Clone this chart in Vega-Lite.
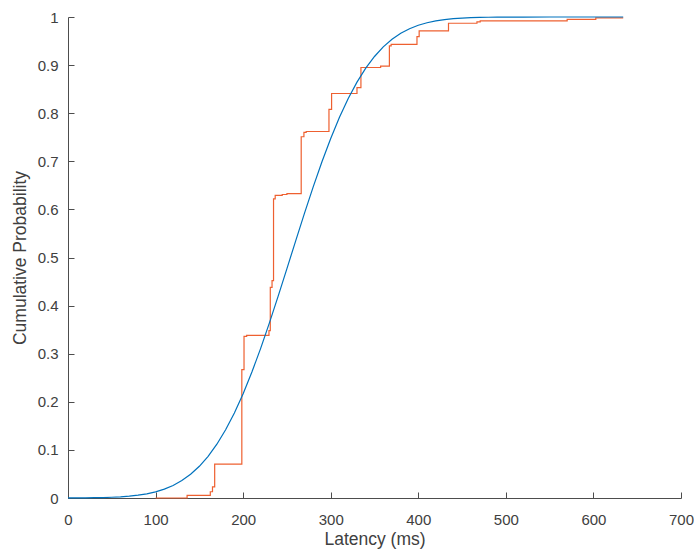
{
  "$schema": "https://vega.github.io/schema/vega-lite/v6.json",
  "width": 613,
  "height": 481,
  "autosize": {"type": "none"},
  "padding": {"left": 68, "top": 17, "right": 13, "bottom": 54},
  "background": "white",
  "config": {
    "view": {"stroke": null},
    "axis": {
      "grid": false,
      "domainColor": "#4d4d4d",
      "tickColor": "#4d4d4d",
      "labelColor": "#404040",
      "titleColor": "#404040",
      "labelFont": "Liberation Sans",
      "titleFont": "Liberation Sans",
      "labelFontSize": 15,
      "titleFontSize": 17.5,
      "titleFontWeight": "normal",
      "labelFlush": false,
      "tickSize": -6,
      "domainWidth": 1,
      "tickWidth": 1
    }
  },
  "datasets": {
    "fit": [
      {"x": 0, "p": 0.000116}, {"x": 10, "p": 0.000203}, {"x": 20, "p": 0.000348},
      {"x": 30, "p": 0.000585}, {"x": 40, "p": 0.000964}, {"x": 50, "p": 0.00155},
      {"x": 60, "p": 0.00246}, {"x": 70, "p": 0.00383}, {"x": 80, "p": 0.00584},
      {"x": 90, "p": 0.00873}, {"x": 100, "p": 0.0128}, {"x": 110, "p": 0.0184},
      {"x": 120, "p": 0.0261}, {"x": 130, "p": 0.0362}, {"x": 140, "p": 0.0493},
      {"x": 150, "p": 0.0659}, {"x": 160, "p": 0.0866}, {"x": 170, "p": 0.1118},
      {"x": 180, "p": 0.1418}, {"x": 190, "p": 0.1768}, {"x": 200, "p": 0.2169},
      {"x": 210, "p": 0.2618}, {"x": 220, "p": 0.3111}, {"x": 230, "p": 0.364},
      {"x": 240, "p": 0.4196}, {"x": 250, "p": 0.4769}, {"x": 260, "p": 0.5347},
      {"x": 270, "p": 0.5917}, {"x": 280, "p": 0.6469}, {"x": 290, "p": 0.6991},
      {"x": 300, "p": 0.7475}, {"x": 310, "p": 0.7915}, {"x": 320, "p": 0.8306},
      {"x": 330, "p": 0.8646}, {"x": 340, "p": 0.8937}, {"x": 350, "p": 0.9179},
      {"x": 360, "p": 0.9378}, {"x": 370, "p": 0.9536}, {"x": 380, "p": 0.9661},
      {"x": 390, "p": 0.9756}, {"x": 400, "p": 0.9828}, {"x": 410, "p": 0.9881},
      {"x": 420, "p": 0.9919}, {"x": 430, "p": 0.9946}, {"x": 440, "p": 0.9965},
      {"x": 450, "p": 0.9978}, {"x": 460, "p": 0.9986}, {"x": 470, "p": 0.99913},
      {"x": 480, "p": 0.99947}, {"x": 490, "p": 0.99969}, {"x": 500, "p": 0.99982},
      {"x": 520, "p": 0.99994}, {"x": 550, "p": 0.99999}, {"x": 600, "p": 1.0},
      {"x": 634, "p": 1.0}
    ],
    "ecdf": [
      {"x": 100, "p": 0}, {"x": 136, "p": 0.0056}, {"x": 162.5, "p": 0.013},
      {"x": 165, "p": 0.023}, {"x": 167.5, "p": 0.0705}, {"x": 198.5, "p": 0.267},
      {"x": 201, "p": 0.336}, {"x": 204, "p": 0.338}, {"x": 229.5, "p": 0.348},
      {"x": 231, "p": 0.438}, {"x": 233, "p": 0.452}, {"x": 234.7, "p": 0.622},
      {"x": 236.6, "p": 0.629}, {"x": 244.6, "p": 0.631}, {"x": 250, "p": 0.633},
      {"x": 266.3, "p": 0.751}, {"x": 269.4, "p": 0.76}, {"x": 272, "p": 0.762},
      {"x": 298, "p": 0.808}, {"x": 301, "p": 0.841}, {"x": 330, "p": 0.853},
      {"x": 334.5, "p": 0.895}, {"x": 357, "p": 0.898}, {"x": 367, "p": 0.94},
      {"x": 369, "p": 0.943}, {"x": 398.5, "p": 0.959}, {"x": 401, "p": 0.971},
      {"x": 434.5, "p": 0.987}, {"x": 467, "p": 0.99}, {"x": 470.7, "p": 0.992},
      {"x": 570, "p": 0.995}, {"x": 602.7, "p": 0.998}, {"x": 634, "p": 0.998}
    ]
  },
  "layer": [
    {
      "data": {"name": "ecdf"},
      "mark": {"type": "line", "interpolate": "step-after", "color": "#EE6030", "strokeWidth": 1.2},
      "encoding": {
        "x": {"field": "x", "type": "quantitative",
              "scale": {"domain": [0, 700], "nice": false},
              "axis": {"values": [0, 100, 200, 300, 400, 500, 600, 700], "title": "Latency (ms)", "labelPadding": 20, "titlePadding": 3}},
        "y": {"field": "p", "type": "quantitative",
              "scale": {"domain": [0, 1], "nice": false},
              "axis": {"values": [0, 0.1, 0.2, 0.3, 0.4, 0.5, 0.6, 0.7, 0.8, 0.9, 1], "format": "~g", "title": "Cumulative Probability", "labelPadding": 16, "titlePadding": 8}}
      }
    },
    {
      "data": {"name": "fit"},
      "mark": {"type": "line", "color": "#0072BD", "strokeWidth": 1.2},
      "encoding": {
        "x": {"field": "x", "type": "quantitative"},
        "y": {"field": "p", "type": "quantitative"}
      }
    }
  ]
}
